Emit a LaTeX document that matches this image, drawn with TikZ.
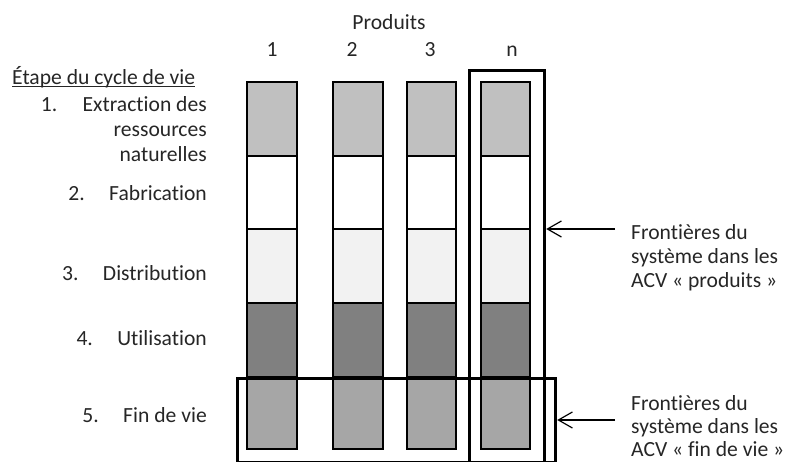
\documentclass[tikz,border=0pt]{standalone}
\usepackage{fontspec}
\setmainfont{Carlito}[Ligatures={NoCommon}]
\usetikzlibrary{arrows.meta}
\begin{document}
\begin{tikzpicture}[x=1pt,y=-1pt,
  txt/.style={font=\fontsize{21.6}{24}\selectfont, text=black!85, inner sep=0pt},
  cell/.style={draw=black, line width=1.4pt},
  bigbox/.style={draw=black, line width=3.2pt, inner sep=0pt},
  arr/.style={draw=black, line width=1.2pt, -{Straight Barb[length=14pt,width=16pt]}}]
\useasboundingbox (0,0) rectangle (785,462);
% columns
\foreach \c/\xa/\xb in {1/247/297, 2/333/383, 3/407/456, 4/481/530}{
  \path[cell, fill={rgb,255:red,192;green,192;blue,192}] (\xa,82) rectangle (\xb,156);
  \path[cell, fill=white] (\xa,156) rectangle (\xb,229);
  \path[cell, fill={rgb,255:red,242;green,242;blue,242}] (\xa,229) rectangle (\xb,303);
  \path[cell, fill={rgb,255:red,128;green,128;blue,128}] (\xa,303) rectangle (\xb,377);
  \path[cell, fill={rgb,255:red,166;green,166;blue,166}] (\xa,377) rectangle (\xb,449);
}
% boundary boxes
\node[bigbox, minimum width=75pt, minimum height=392pt, anchor=north west] (boxn) at (468,69) {};
\node[bigbox, minimum width=318pt, minimum height=84pt, anchor=north west] (boxf) at (236,377) {};
% header
\node[txt, anchor=base] (prod) at (389,30) {Produits};
\node[txt, anchor=base] (p1) at (272,57) {1};
\node[txt, anchor=base] (p2) at (352,57) {2};
\node[txt, anchor=base] (p3) at (430,57) {3};
\node[txt, anchor=base] (pn) at (512,57) {n};
% left labels
\node[txt, anchor=base west] (etape) at (12,85) {Étape du cycle de vie};
\draw[black!85, line width=1pt] ([yshift=-2pt]etape.base west) -- ([yshift=-2pt]etape.base east);
\node[txt, anchor=base east] (l1a) at (207,112) {Extraction des};
\node[txt, anchor=base east] (l1b) at (207,137) {ressources};
\node[txt, anchor=base east] (l1c) at (207,162) {naturelles};
\node[txt, anchor=base east] (n1) at ([xshift=-25pt]l1a.base west) {1.};
\node[txt, anchor=base east] (l2) at (207,201) {Fabrication};
\node[txt, anchor=base east] (n2) at ([xshift=-24pt]l2.base west) {2.};
\node[txt, anchor=base east] (l3) at (207,281) {Distribution};
\node[txt, anchor=base east] (n3) at ([xshift=-24pt]l3.base west) {3.};
\node[txt, anchor=base east] (l4) at (207,346) {Utilisation};
\node[txt, anchor=base east] (n4) at ([xshift=-24pt]l4.base west) {4.};
\node[txt, anchor=base east] (l5) at (207,423) {Fin de vie};
\node[txt, anchor=base east] (n5) at ([xshift=-24pt]l5.base west) {5.};
% right labels
\node[txt, anchor=base west] (fa1) at (631,240) {Frontières du};
\node[txt, anchor=base west] (fa2) at (631,264) {système dans les};
\node[txt, anchor=base west] (fa3) at (631,288) {ACV « produits »};
\node[txt, anchor=base west] (fb1) at (631,410) {Frontières du};
\node[txt, anchor=base west] (fb2) at (631,433) {système dans les};
\node[txt, anchor=base west] (fb3) at (631,456) {ACV « fin de vie »};
% arrows
\coordinate (sa) at (615,229);
\coordinate (sb) at (615,420);
\draw[arr] (sa) -- (sa -| boxn.east);
\draw[arr] (sb) -- (sb -| boxf.east);
\end{tikzpicture}
\end{document}
